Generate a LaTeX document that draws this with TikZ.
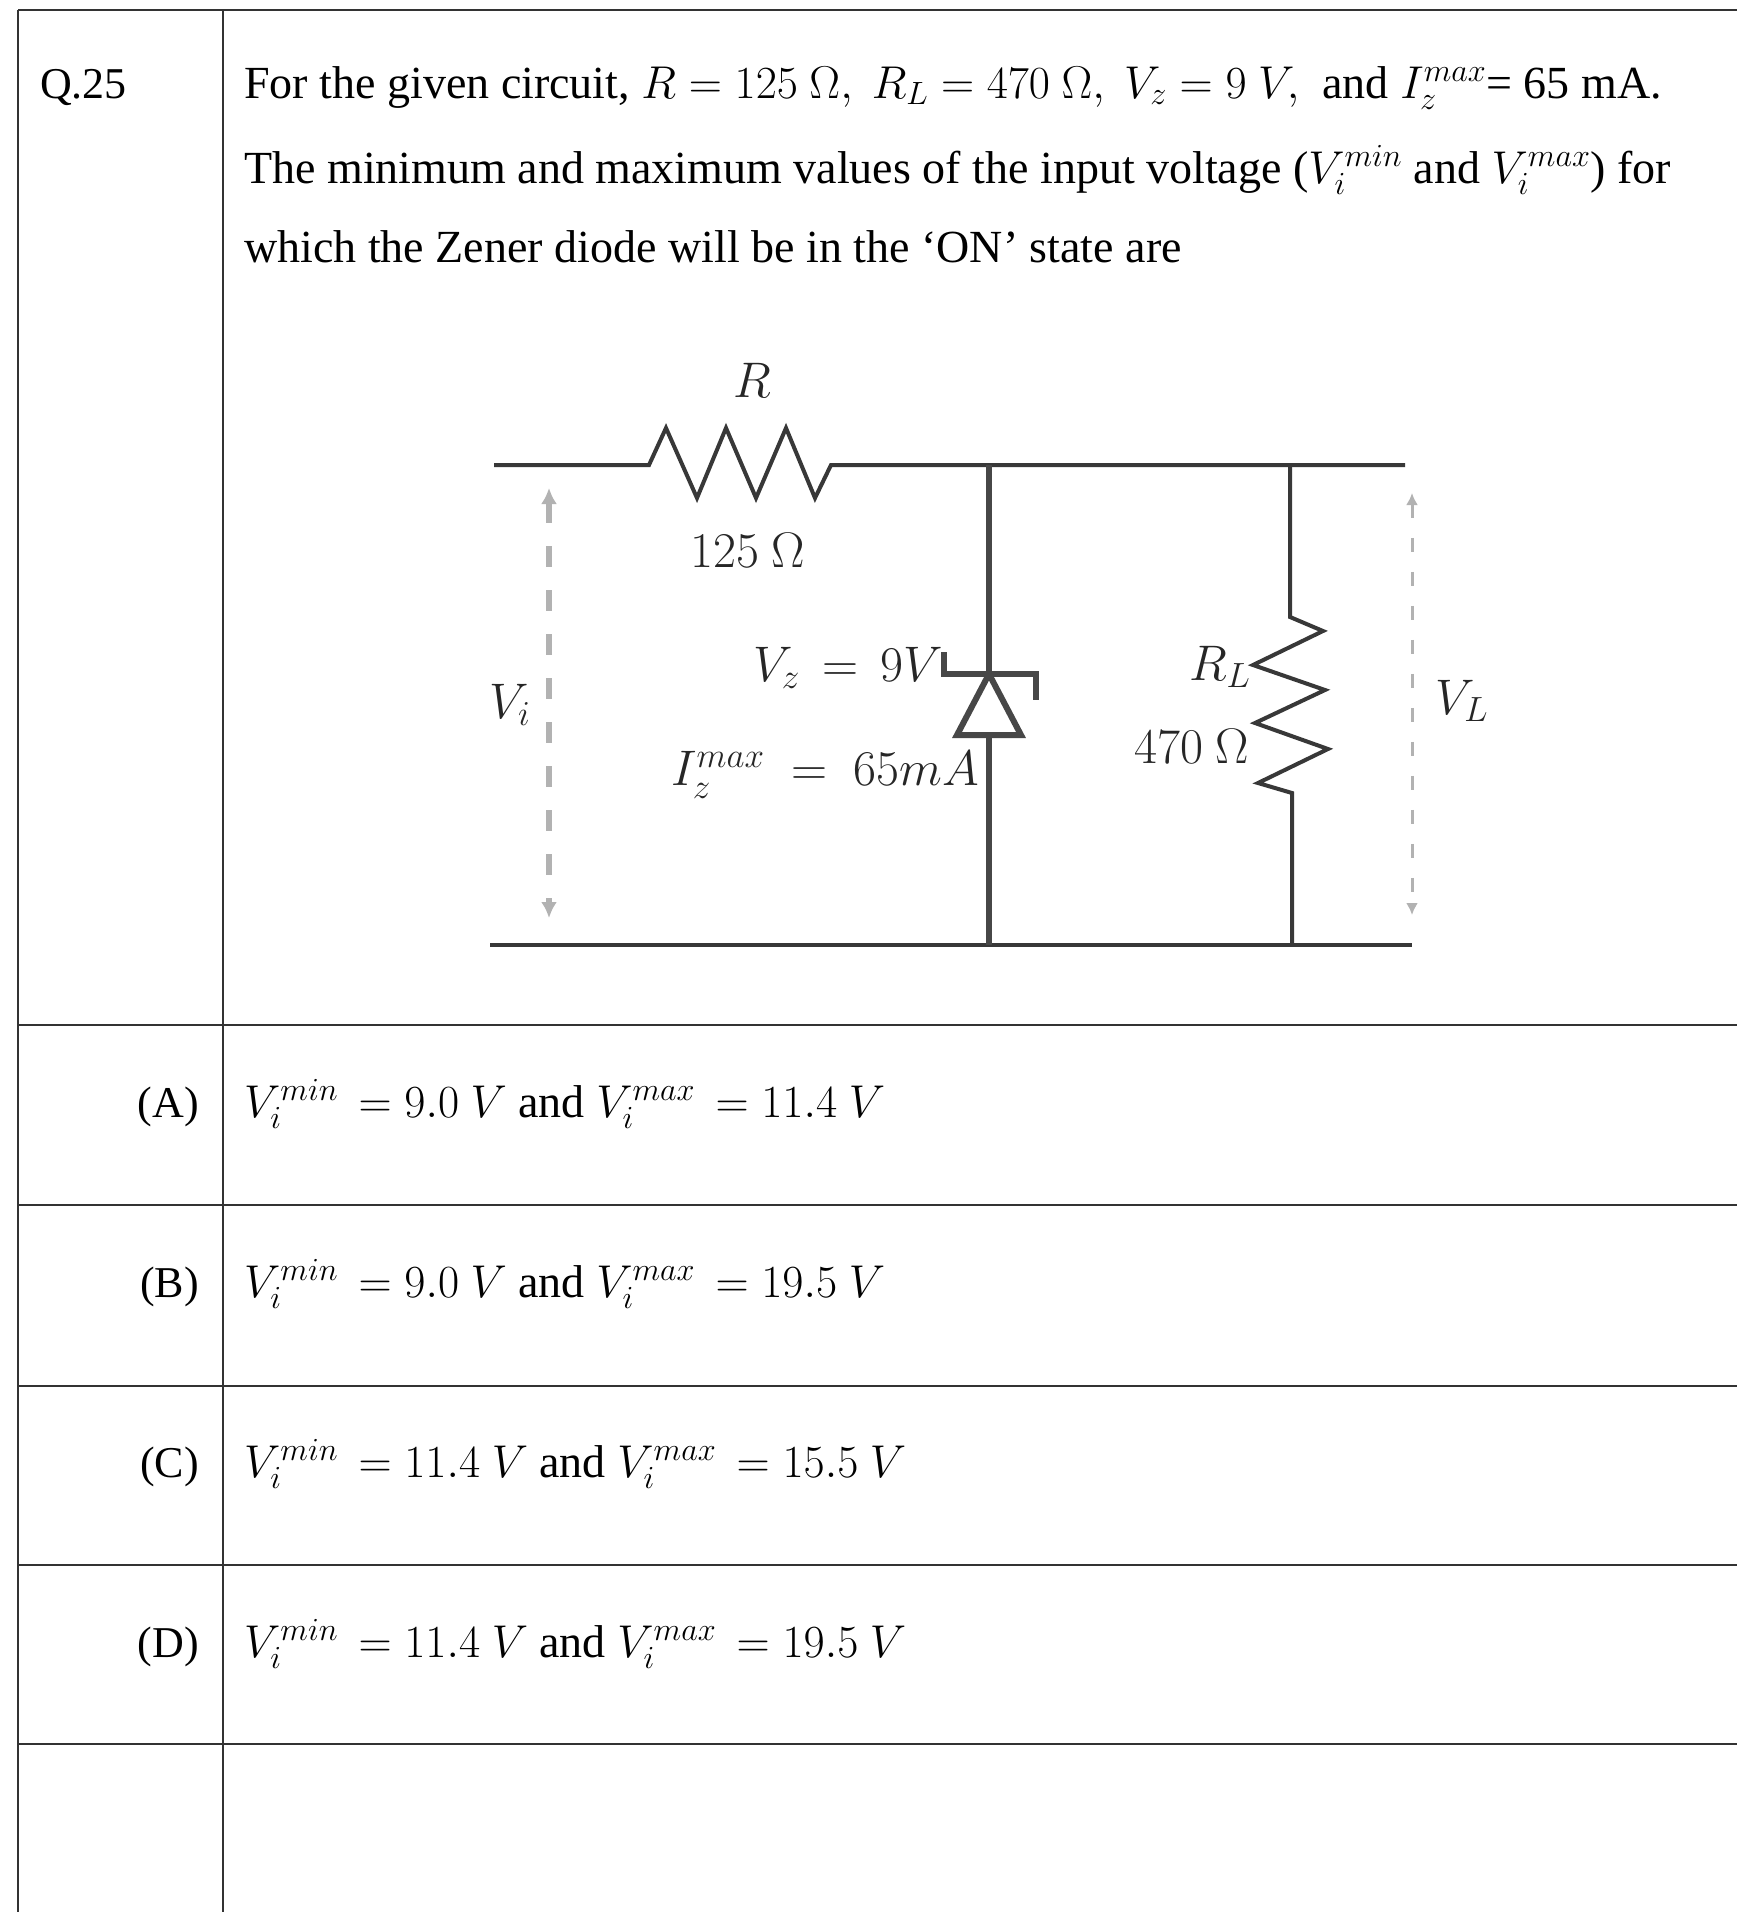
\RequirePackage{fix-cm}
\documentclass[tikz,border=0pt]{standalone}
\usepackage{fontspec}
\setmainfont{Liberation Serif}
\usetikzlibrary{arrows.meta}
\begin{document}
\begin{tikzpicture}[x=1pt,y=-1pt,
  tab/.style={line width=2pt, draw=black!80},
  txt/.style={font=\fontsize{46}{54}\selectfont, inner sep=0pt, anchor=base west},
  qtxt/.style={font=\fontsize{44}{52}\selectfont, inner sep=0pt, anchor=base west},
  opt/.style={font=\fontsize{44}{52}\selectfont, inner sep=0pt, anchor=base east},
  lbl/.style={font=\fontsize{50}{60}\selectfont, inner sep=0pt, text=black!85},
  wire/.style={line width=4pt, draw=black!78},
  zen/.style={line width=6pt, draw=black!72, line join=miter},
  varrow/.style={line width=6pt, draw=black!30, dash pattern=on 21pt off 23pt, {Latex[length=16pt,width=16pt]}-{Latex[length=16pt,width=16pt]}},
  larrow/.style={line width=3pt, draw=black!30, dash pattern=on 14pt off 20pt, {Latex[length=12pt,width=12pt]}-{Latex[length=12pt,width=12pt]}}
]
\useasboundingbox[fill=white] (0,0) rectangle (1737,1912);
% table
\draw[tab] (18,10) -- (1737,10);
\foreach \y in {1025,1205,1386,1565,1744} \draw[tab] (18,\y) -- (1737,\y);
\draw[tab] (18,10) -- (18,1912);
\draw[tab] (223,10) -- (223,1912);
% question text
\node[qtxt] (q) at (40,98) {Q.25};
\node[txt] (l1) at (244,98) {For the given circuit, $R = 125\ \Omega,\ R_L = 470\ \Omega,\ V_z = 9\ V,$\ \ and $I_z^{max}$= 65 mA.};
\node[txt] (l2) at (244,183) {The minimum and maximum values of the input voltage ($V_i^{min}$ and $V_i^{max}$) for};
\node[txt] (l3) at (244,262) {which the Zener diode will be in the ‘ON’ state are};
% circuit coordinates
\coordinate (tl) at (494,465);
\coordinate (r1) at (649,465);
\coordinate (r2) at (831,465);
\coordinate (dt) at (989,465);
\coordinate (lt) at (1290,465);
\coordinate (tr) at (1405,465);
\coordinate (bl) at (490,945);
\coordinate (db) at (989,945);
\coordinate (lb) at (1290,945);
\coordinate (br) at (1412,945);
\coordinate (bar) at (989,674);
\coordinate (tb) at (989,735);
\coordinate (rl1) at (1290,617);
\coordinate (rl2) at (1292,793);
% wires
\draw[wire] (tl) -- (r1) -- (666,428) -- (697,498) -- (726,428) -- (756,498) -- (786,428) -- (815,498) -- (r2) -- (dt) -- (lt) -- (tr);
\draw[wire] (bl) -- (db) -- (lb) -- (br);
\draw[wire] (lt) -- (rl1) -- (1323,631) -- (1253,665) -- (1325,690) -- (1255,723) -- (1328,749) -- (1258,783) -- (rl2) -- (1292,945);
% zener
\draw[zen] (dt) -- (bar);
\draw[zen] (tb) -- (db);
\draw[zen] (944,652) -- (944,674) -- (1036,674) -- (1036,700);
\draw[zen] (bar) -- (957,735) -- (1021,735) -- cycle;
% voltage arrows
\coordinate (vi1) at (549,488);
\coordinate (vi2) at (549,918);
\draw[varrow] (vi1) -- (vi2);
\coordinate (vl1) at (1412,493);
\coordinate (vl2) at (1412,915);
\draw[larrow] (vl1) -- (vl2);
% labels
\node[lbl] (lR) at (752,380) {$R$};
\node[lbl] (lR2) at (748,550) {$125\ \Omega$};
\node[lbl] (lVi) at (510,705) {$V_i$};
\node[lbl] (lVz) at (848,668) {$V_z\,=\,9V$};
\node[lbl] (lIz) at (825,775) {$I_z^{max}\ =\ 65mA$};
\node[lbl] (lRL) at (1220,667) {$R_L$};
\node[lbl] (lRL2) at (1192,746) {$470\ \Omega$};
\node[lbl] (lVL) at (1462,701) {$V_L$};
% options
\node[opt] (oa) at (199,1117) {(A)};
\node[txt] (ta) at (244,1117) {$V_i^{min}\,=9.0\ V$ and $V_i^{max}\,=11.4\ V$};
\node[opt] (ob) at (199,1297) {(B)};
\node[txt] (tb2) at (244,1297) {$V_i^{min}\,=9.0\ V$ and $V_i^{max}\,=19.5\ V$};
\node[opt] (oc) at (199,1477) {(C)};
\node[txt] (tc) at (244,1477) {$V_i^{min}\,=11.4\ V$ and $V_i^{max}\,=15.5\ V$};
\node[opt] (od) at (199,1657) {(D)};
\node[txt] (td) at (244,1657) {$V_i^{min}\,=11.4\ V$ and $V_i^{max}\,=19.5\ V$};
\end{tikzpicture}
\end{document}
